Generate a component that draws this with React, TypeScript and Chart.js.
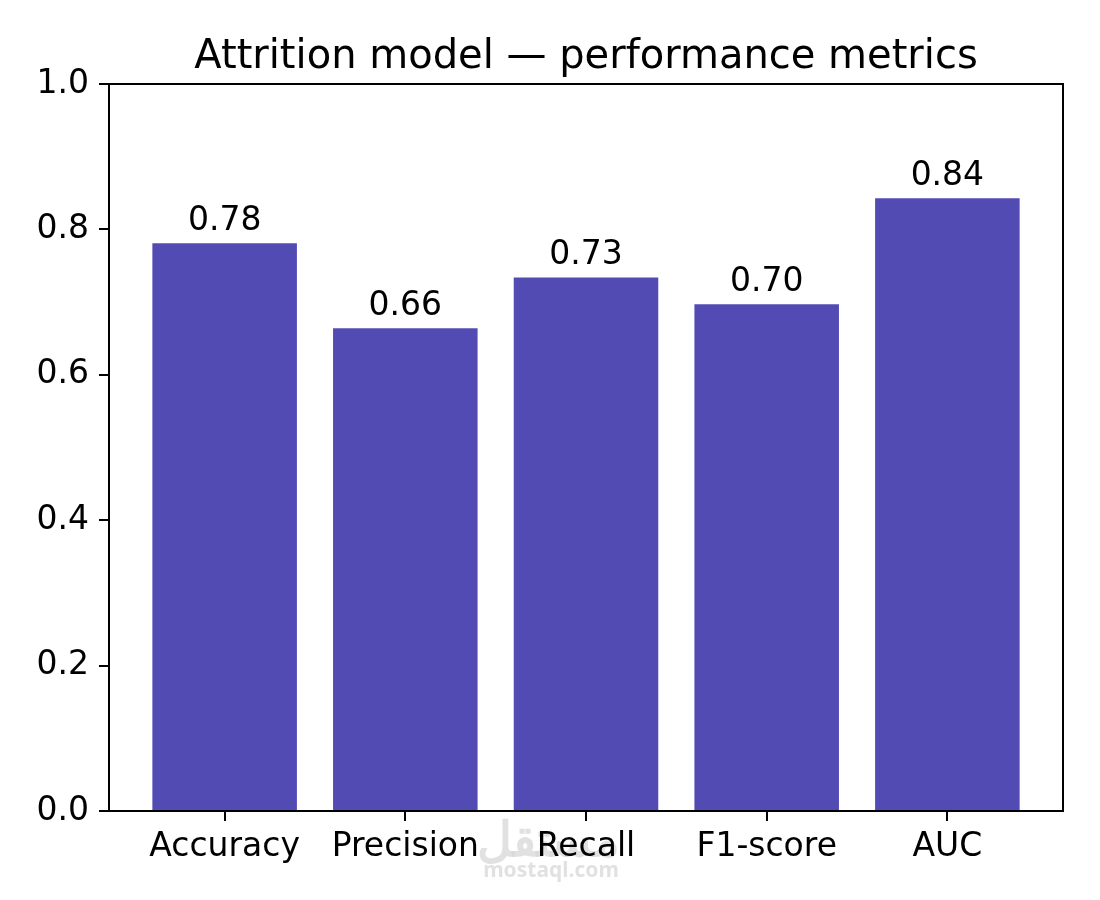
import React, { useEffect, useRef } from "react";
import { Chart, registerables } from "chart.js";

Chart.register(...registerables);

const categories = ["Accuracy", "Precision", "Recall", "F1-score", "AUC"];
const scores = [0.781, 0.664, 0.734, 0.697, 0.843];
const yTicks = [0, 0.2, 0.4, 0.6, 0.8, 1.0];
const titleText = "Attrition model — performance metrics";
const watermarkLogo = "مستقل";
const watermarkSite = "mostaql.com";

const FONT = "'DejaVu Sans', sans-serif";
const BAR_COLOR = "#534BB4";

export default function App() {
  const ref = useRef<HTMLCanvasElement | null>(null);

  useEffect(() => {
    document.body.style.margin = "0";
    const canvas = ref.current;
    if (!canvas) return;

    const framePlugin = {
      id: "frame",
      beforeDraw(chart: any) {
        const ctx = chart.ctx;
        ctx.save();
        ctx.fillStyle = "#ffffff";
        ctx.fillRect(0, 0, chart.width, chart.height);
        // watermark
        ctx.fillStyle = "rgba(215,215,215,0.75)";
        ctx.textAlign = "center";
        ctx.textBaseline = "alphabetic";
        ctx.font = `bold 48px 'Noto Sans', sans-serif`;
        ctx.fillText(watermarkLogo, 548, 856);
        ctx.font = `bold 21px 'Noto Sans', sans-serif`;
        ctx.fillText(watermarkSite, 551, 877);
        ctx.restore();
      },
      afterDraw(chart: any) {
        const ctx = chart.ctx;
        const a = chart.chartArea;
        ctx.save();
        ctx.strokeStyle = "#000";
        ctx.lineWidth = 2;
        ctx.strokeRect(a.left, a.top, a.right - a.left, a.bottom - a.top);
        // title
        ctx.fillStyle = "#000";
        ctx.font = `40px ${FONT}`;
        ctx.textAlign = "center";
        ctx.textBaseline = "alphabetic";
        ctx.fillText(titleText, (a.left + a.right) / 2, 68);
        // bar labels
        ctx.font = `33px ${FONT}`;
        const meta = chart.getDatasetMeta(0);
        meta.data.forEach((el: any, i: number) => {
          ctx.fillText(scores[i].toFixed(2), el.x, el.y - 13);
        });
        ctx.restore();
      },
    };

    const chart = new Chart(canvas, {
      type: "bar",
      data: {
        datasets: [
          {
            data: scores.map((v, i) => ({ x: i, y: v })),
            backgroundColor: BAR_COLOR,
            borderWidth: 0,
            categoryPercentage: 1,
            barPercentage: 0.8,
          },
        ],
      },
      options: {
        responsive: false,
        devicePixelRatio: 1,
        animation: false,
        layout: { padding: { left: 0, right: 37, top: 84, bottom: 0 } },
        plugins: {
          legend: { display: false },
          tooltip: { enabled: false },
          title: { display: false },
        },
        scales: {
          x: {
            type: "linear",
            min: -0.64,
            max: 4.64,
            offset: false,
            afterBuildTicks: (scale: any) => {
              scale.ticks = categories.map((_, i) => ({ value: i }));
            },
            afterFit: (scale: any) => {
              scale.height = 89;
            },
            ticks: {
              color: "#000",
              font: { family: FONT, size: 33 },
              padding: 7,
              maxRotation: 0,
              autoSkip: false,
              callback: (v: any) => categories[Math.round(Number(v))] ?? "",
            },
            grid: {
              display: true,
              offset: false,
              drawOnChartArea: false,
              drawTicks: true,
              tickLength: 10,
              color: "#000",
              lineWidth: 2,
            },
            border: { display: true, color: "#000", width: 2 },
          },
          y: {
            type: "linear",
            min: 0,
            max: 1,
            afterBuildTicks: (scale: any) => {
              scale.ticks = yTicks.map((v) => ({ value: v }));
            },
            afterFit: (scale: any) => {
              scale.width = 109;
            },
            ticks: {
              color: "#000",
              font: { family: FONT, size: 33 },
              padding: 10,
              callback: (v: any) => Number(v).toFixed(1),
            },
            grid: {
              display: true,
              drawOnChartArea: false,
              drawTicks: true,
              tickLength: 10,
              color: "#000",
              lineWidth: 2,
            },
            border: { display: true, color: "#000", width: 2 },
          },
        },
      } as any,
      plugins: [framePlugin],
    });

    return () => chart.destroy();
  }, []);

  return (
    <div style={{ position: "fixed", left: 0, top: 0, width: 1100, height: 900 }}>
      <canvas ref={ref} width={1100} height={900} style={{ width: 1100, height: 900 }} />
    </div>
  );
}
